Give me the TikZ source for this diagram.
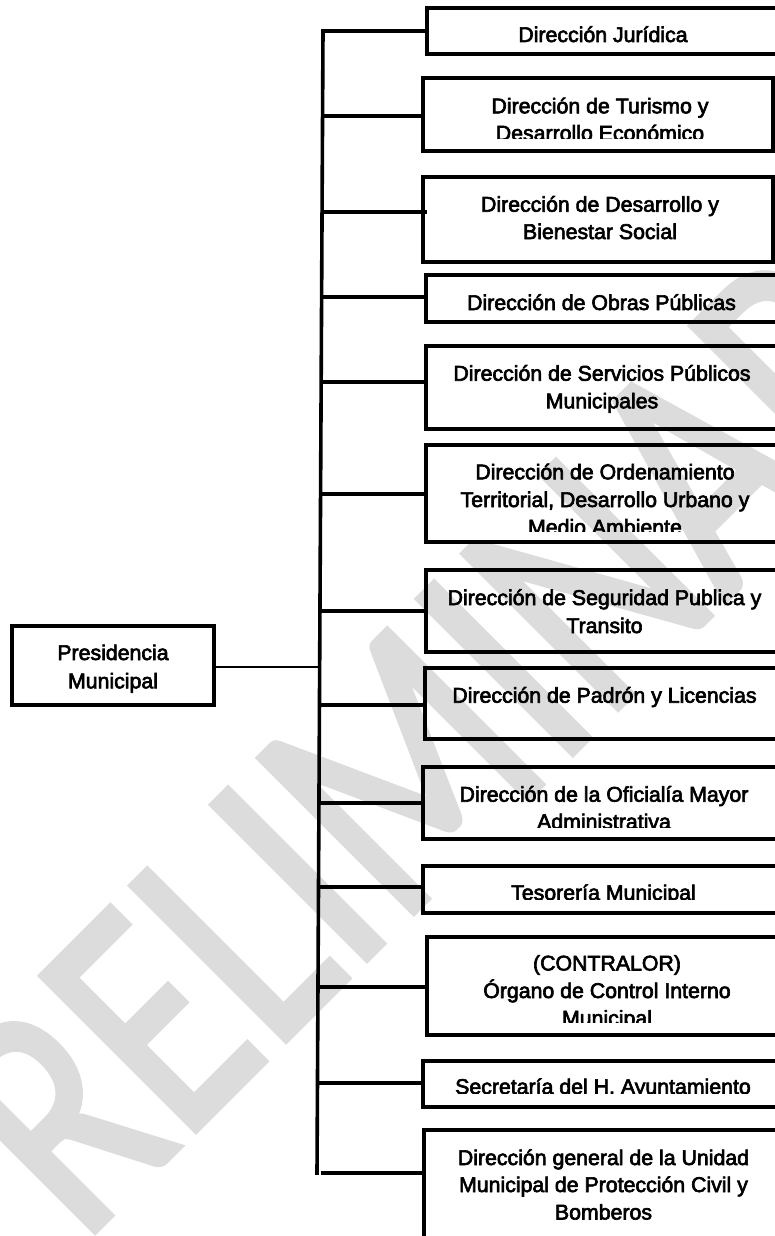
\documentclass[tikz,border=0pt]{standalone}
\usepackage{fontspec}
\setmainfont{Liberation Sans}[RawFeature={embolden=3}]
\newfontfamily\wmfont{Carlito}[RawFeature={embolden=2}]
\definecolor{wmgray}{RGB}{220,220,220}
\newcommand\obox[5]{\node[orgbox, minimum width={(#4)-(#2)}, minimum height={(#5)-(#3)}] (#1) at ({((#2)+(#4))/2},{((#3)+(#5))/2}) {};}
\begin{document}
\begin{tikzpicture}[x=1pt,y=-1pt,
  orgbox/.style={draw, line width=3.6pt, inner sep=0pt, outer sep=0pt},
  lbl/.style={inner sep=0pt, outer sep=0pt, anchor=base, font=\fontsize{21.3}{27}\selectfont},
  conn/.style={line width=3.2pt},
  pconn/.style={line width=2.7pt},
  spine/.style={line width=3.6pt, line cap=rect}]
\useasboundingbox (0,0) rectangle (775,1236);
% watermark
\node[anchor=base west, rotate=45, xscale=0.774, inner sep=0pt, outer sep=0pt, text=wmgray,
      font=\wmfont\fontsize{340}{340}\selectfont] (wm) at (-15,1341) {PRELIMINAR};

% boxes
\obox{p}{12}{626}{214}{705}
\obox{b1}{427}{8}{780}{54}
\obox{b2}{423}{78}{773}{151}
\obox{b3}{423}{177}{773}{262}
\obox{b4}{426}{275}{780}{322}
\obox{b5}{426}{346}{780}{429}
\obox{b6}{426}{445}{780}{542}
\obox{b7}{426}{570}{780}{652}
\obox{b8}{425}{668}{780}{739}
\obox{b9}{423}{767}{780}{839}
\obox{b10}{423}{866}{780}{913}
\obox{b11}{427}{937}{787}{1035}
\obox{b12}{423}{1061}{780}{1107}
\obox{b13}{424}{1130}{780}{1260}

% texts
\node[lbl] (pt1) at (113,660) {Presidencia};
\node[lbl] (pt2) at (113,688.3) {Municipal};

\node[lbl] (t1) at (603,42) {Dirección Jurídica};
\begin{scope}
\clip (423,78) rectangle (773,138.3);
\node[lbl] (t2a) at (600,113.3) {Dirección de Turismo y};
\node[lbl] (t2b) at (600,140.5) {Desarrollo Económico};
\end{scope}
\node[lbl] (t3a) at (600,211.7) {Dirección de Desarrollo y};
\node[lbl] (t3b) at (600,239) {Bienestar Social};
\node[lbl] (t4) at (601.5,310) {Dirección de Obras Públicas};
\node[lbl] (t5a) at (602,380.7) {Dirección de Servicios Públicos};
\node[lbl] (t5b) at (602,408.3) {Municipales};
\begin{scope}
\clip (426,445) rectangle (780,531);
\node[lbl] (t6a) at (605,479.3) {Dirección de Ordenamiento};
\node[lbl] (t6b) at (605,507) {Territorial, Desarrollo Urbano y};
\node[lbl] (t6c) at (605,534.5) {Medio Ambiente};
\end{scope}
\node[lbl] (t7a) at (604.5,605) {Dirección de Seguridad Publica y};
\node[lbl] (t7b) at (604.5,633) {Transito};
\node[lbl] (t8) at (604.5,702.7) {Dirección de Padrón y Licencias};
\begin{scope}
\clip (423,767) rectangle (780,827.3);
\node[lbl] (t9a) at (604,801.7) {Dirección de la Oficialía Mayor};
\node[lbl] (t9b) at (604,829) {Administrativa};
\end{scope}
\begin{scope}
\clip (423,866) rectangle (780,899.3);
\node[lbl] (t10) at (603.5,900) {Tesorería Municipal};
\end{scope}
\begin{scope}
\clip (427,937) rectangle (787,1022.7);
\node[lbl] (t11a) at (607,970.5) {(CONTRALOR)};
\node[lbl] (t11b) at (607,998) {Órgano de Control Interno};
\node[lbl] (t11c) at (607,1025.5) {Municipal};
\end{scope}
\begin{scope}
\clip (423,1061) rectangle (780,1093.5);
\node[lbl] (t12) at (603,1094) {Secretaría del H. Ayuntamiento};
\end{scope}
\node[lbl] (t13a) at (603.5,1165) {Dirección general de la Unidad};
\node[lbl] (t13b) at (603.5,1192) {Municipal de Protección Civil y};
\node[lbl] (t13c) at (603.5,1219.5) {Bomberos};

% spine
\coordinate (sTop) at (323,31);
\coordinate (sBot) at (317,1173);
\draw[spine] (sTop) -- (sBot);

% connectors
\coordinate (c1) at (323,31);
\coordinate (c2) at (322.5,116);
\coordinate (c3) at (322,212);
\coordinate (c4) at (321.6,297);
\coordinate (c5) at (321.1,382);
\coordinate (c6) at (320.6,494);
\coordinate (c7) at (320,611);
\coordinate (cp) at (319.7,667);
\coordinate (c8) at (319.4,705);
\coordinate (c9) at (318.9,803);
\coordinate (c10) at (318.5,887);
\coordinate (c11) at (318,987);
\coordinate (c12) at (317.5,1083);
\coordinate (c13) at (321,1173);

\draw[conn] (c1) -- (c1 -| b1.west);
\draw[conn] (c2) -- (c2 -| b2.west);
\draw[conn] (c3) -- ([xshift=4pt]c3 -| b3.west);
\draw[conn] (c4) -- (c4 -| b4.west);
\draw[conn] (c5) -- (c5 -| b5.west);
\draw[conn] (c6) -- (c6 -| b6.west);
\draw[conn] (c7) -- (c7 -| b7.west);
\draw[pconn] (cp -| p.east) -- (cp);
\draw[conn] (c8) -- (c8 -| b8.west);
\draw[conn] (c9) -- (c9 -| b9.west);
\draw[conn] (c10) -- (c10 -| b10.west);
\draw[conn] (c11) -- (c11 -| b11.west);
\draw[conn] (c12) -- (c12 -| b12.west);
\draw[conn] (c13) -- (c13 -| b13.west);
\end{tikzpicture}
\end{document}
